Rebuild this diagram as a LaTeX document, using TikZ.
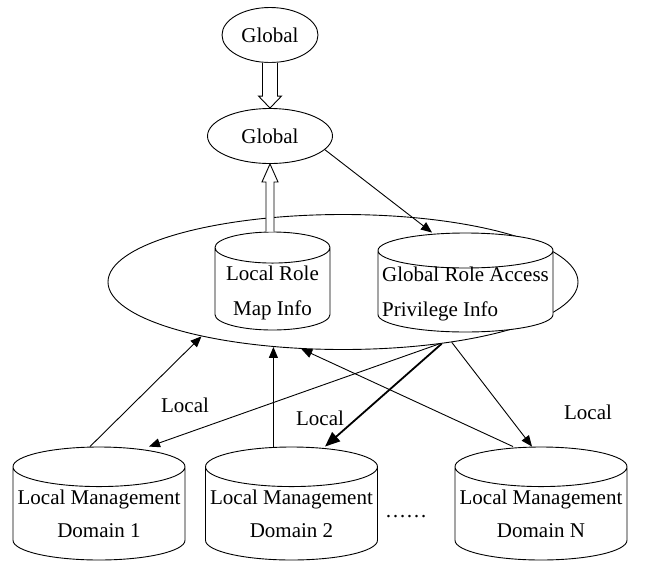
\documentclass[tikz,border=0pt]{standalone}
\usepackage{fontspec}
\setmainfont{Liberation Serif}
\usetikzlibrary{shapes.geometric,arrows.meta,calc}

\tikzset{
  oval/.style={draw, ellipse, inner sep=0pt, line width=0.9pt},
  store/.style={draw, cylinder, shape border rotate=90, anchor=shape center,
    fill=white, line width=0.9pt, inner ysep=0pt},
  storetext/.style={inner sep=0pt, align=center},
  link/.style={line width=0.9pt, -{Triangle[length=11pt,width=9pt]}},
  boldlink/.style={line width=1.8pt, -{Triangle[length=15pt,width=12pt]}},
  hollow/.style={draw, fill=white, line width=0.9pt},
  tag/.style={inner sep=0pt}
}

\begin{document}
\begin{tikzpicture}[x=1pt,y=-1pt,font=\fontsize{21}{33}\selectfont]
  \useasboundingbox (0,0) rectangle (651,563);
  % global level
  \node[oval, minimum width=470, minimum height=135] (dom) at (343,282) {};
  \node[oval, minimum width=96, minimum height=55] (gtop) at (270,35) {Global};
  \node[oval, minimum width=125, minimum height=55] (gmid) at (270,136) {Global};
  \node[store, inner xsep=57.5pt, minimum width=115, minimum height=98, aspect=0.27,
    label={[storetext, yshift=4pt]center:Local Role\\[2pt]Map Info}] (locmap) at (272.5,281) {};
  \node[store, inner xsep=87.5pt, minimum width=175, minimum height=99, aspect=0.2,
    label={[storetext, align=left, yshift=6pt]center:Global Role Access\\[2pt]Privilege Info}] (gpriv) at (465.5,282.5) {};
  % local domains
  \node[store, inner xsep=86pt, minimum width=172, minimum height=113, aspect=0.23,
    label={[storetext, yshift=9.5pt]center:Local Management\\Domain 1}] (dom1) at (99,503.5) {};
  \node[store, inner xsep=86pt, minimum width=172, minimum height=113, aspect=0.23,
    label={[storetext, yshift=9.5pt]center:Local Management\\Domain 2}] (dom2) at (291.5,503.5) {};
  \node[store, inner xsep=86pt, minimum width=172, minimum height=113, aspect=0.23,
    label={[storetext, yshift=9.5pt]center:Local Management\\Domain N}] (domn) at (541,503.5) {};
  \node[tag] (dots) at (406,517) {……};
  \node[tag] (lbl1) at (185,405) {Local};
  \node[tag] (lbl2) at (320,418) {Local};
  \node[tag] (lbl3) at (588,412) {Local};

  % hollow arrows
  \draw[hollow] ([xshift=-7.5pt]gtop.south) -- ([xshift=-7.5pt,yshift=12pt]gmid.north)
    -- ([xshift=-11.5pt,yshift=12pt]gmid.north) -- (gmid.north)
    -- ([xshift=11.5pt,yshift=12pt]gmid.north) -- ([xshift=7.5pt,yshift=12pt]gmid.north)
    -- ([xshift=7.5pt]gtop.south);
  \draw[hollow] ([xshift=-4pt]gmid.south |- locmap.north) -- ([xshift=-4pt,yshift=-18pt]gmid.south)
    -- ([xshift=-8pt,yshift=-18pt]gmid.south) -- (gmid.south)
    -- ([xshift=8pt,yshift=-18pt]gmid.south) -- ([xshift=4pt,yshift=-18pt]gmid.south)
    -- ([xshift=4pt]gmid.south |- locmap.north);

  % connectors
  \draw[link] (gmid.346) -- ([xshift=-33.5pt]gpriv.north);
  \draw[link] ([xshift=-9pt]dom1.north) -- (dom.201);
  \draw[link] (dom.327) -- ([xshift=50pt]dom1.north);
  \draw[link] (dom.223 |- dom2.north) -- (dom.223);
  \draw[link] ([xshift=-28pt]domn.north) -- (dom.238);
  \draw[link] (dom.331) -- ([xshift=-9pt]domn.north);
  \draw[boldlink] (dom.328.5) -- ([xshift=33.5pt]dom2.north);
\end{tikzpicture}
\end{document}
